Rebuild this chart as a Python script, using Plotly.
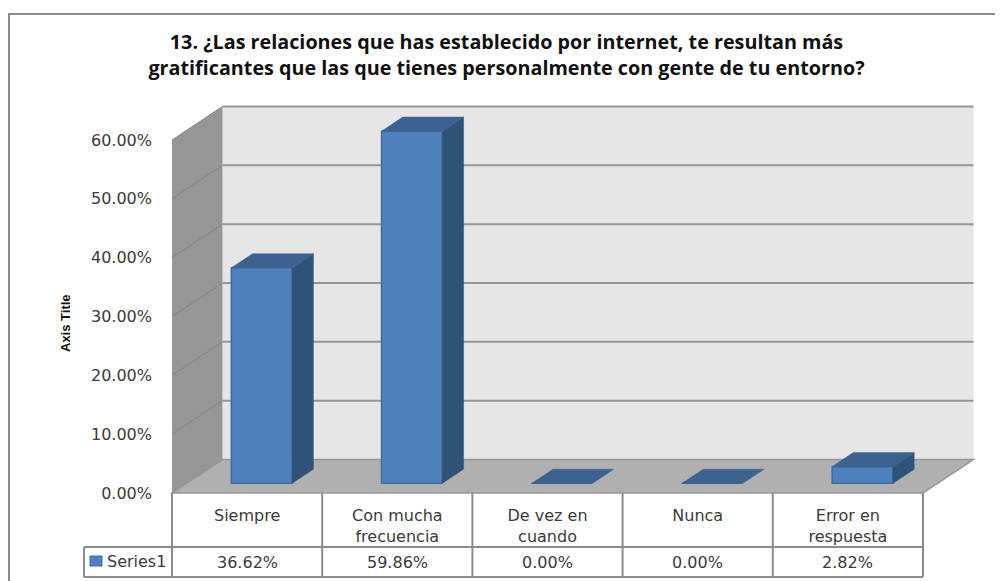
import plotly.graph_objects as go

categories = ["Siempre", "Con mucha<br>frecuencia", "De vez en<br>cuando", "Nunca", "Error en<br>respuesta"]
series_name = "Series1"
values = [36.62, 59.86, 0.00, 0.00, 2.82]
y_ticks = [0, 10, 20, 30, 40, 50, 60]
y_tick_labels = ["0.00%", "10.00%", "20.00%", "30.00%", "40.00%", "50.00%", "60.00%"]
value_labels = ["36.62%", "59.86%", "0.00%", "0.00%", "2.82%"]
title = ("13. ¿Las relaciones que has establecido por internet, te resultan más<br>"
         "gratificantes que las que tienes personalmente con gente de tu entorno?")

PAGE_W, PAGE_H = 1003, 581
OFF = 8                       # page margin around the figure
W, H = PAGE_W - OFF, PAGE_H - OFF
X0, CAT_W = 172, 150.2        # pixel of first category edge, pixels per category
Y0, UNIT = 493, 5.883         # pixel of value 0, pixels per value unit
DX, DY = 50.5 / CAT_W, 33.5 / UNIT   # oblique offset of full floor depth, in axis units
BAR_W = 0.405
D1, D2 = 0.29, 0.71           # front and rear depth of the bars

FRONT, SIDE, TOP = "#4F81BD", "#2F5277", "#3C6290"
EDGE = "#3F6C9F"
WALL, LEFT, FLOOR, GRID = "#E6E6E6", "#969696", "#B0B0B0", "#969696"
TABLE = "#8C8C8C"
TEXT = "#3A3A3A"
FONT = "DejaVu Sans"

def px(x):
    return (x - OFF) / W

def py(y):
    return 1 - (y - OFF) / H

def proj(cat, val, depth):
    return cat + depth * DX, val + depth * DY

def path(points):
    return "M" + "L".join(f"{x},{y}" for x, y in points) + "Z"

n = len(categories)
idx = list(range(n))
top = max(y_ticks)
shapes = []
# walls and floor
shapes.append(dict(type="path", layer="below", line=dict(width=0), fillcolor=WALL,
                   path=path([proj(0, 0, 1), proj(n, 0, 1), proj(n, top, 1), proj(0, top, 1)])))
shapes.append(dict(type="path", layer="below", line=dict(width=0), fillcolor=LEFT,
                   path=path([proj(0, 0, 0), proj(0, 0, 1), proj(0, top, 1), proj(0, top, 0)])))
shapes.append(dict(type="path", layer="below", line=dict(color=GRID, width=1.5), fillcolor=FLOOR,
                   path=path([proj(0, 0, 0), proj(n, 0, 0), proj(n, 0, 1), proj(0, 0, 1)])))
# gridlines
for t in y_ticks[1:]:
    a, b, c = proj(0, t, 0), proj(0, t, 1), proj(n, t, 1)
    shapes.append(dict(type="line", layer="below", x0=a[0], y0=a[1], x1=b[0], y1=b[1],
                       line=dict(color="#858585", width=1)))
    shapes.append(dict(type="line", layer="below", x0=b[0], y0=b[1], x1=c[0], y1=c[1],
                       line=dict(color=GRID, width=2)))

# outer frame (left and top edges are inside the picture)
shapes.append(dict(type="path", xref="paper", yref="paper", line=dict(color="#8C8C8C", width=2),
                   path=f"M{px(9)},{py(581)}L{px(9)},{py(14)}L{px(1003)},{py(14)}"))

# data table
def tline(x0, y0, x1, y1):
    shapes.append(dict(type="line", xref="paper", yref="paper", x0=px(x0), y0=py(y0), x1=px(x1), y1=py(y1),
                       line=dict(color=TABLE, width=2)))

tline(84, 547, 84, 577)
tline(84, 547, X0 + n * CAT_W, 547)
tline(84, 577, X0 + n * CAT_W, 577)
for i in range(n + 1):
    tline(X0 + i * CAT_W, 493, X0 + i * CAT_W, 577)
shapes.append(dict(type="rect", xref="paper", yref="paper", x0=px(90), x1=px(102), y0=py(566), y1=py(556),
                   fillcolor=FRONT, line=dict(color=EDGE, width=1)))

fig = go.Figure()
centers = [i + 0.5 for i in idx]
fig.add_trace(go.Bar(
    x=[proj(c, 0, D1)[0] for c in centers], y=values, base=proj(0, 0, D1)[1], width=BAR_W,
    name=series_name, marker=dict(color=FRONT, line=dict(color=EDGE, width=1.5)),
    showlegend=False, hoverinfo="skip"))

for c, v in zip(centers, values):
    l, r = c - BAR_W / 2, c + BAR_W / 2
    side = [proj(r, 0, D1), proj(r, 0, D2), proj(r, v, D2), proj(r, v, D1), proj(r, 0, D1)]
    lid = [proj(l, v, D1), proj(r, v, D1), proj(r, v, D2), proj(l, v, D2), proj(l, v, D1)]
    if v > 0:
        fig.add_trace(go.Scatter(x=[p[0] for p in side], y=[p[1] for p in side], mode="lines", fill="toself",
                                 fillcolor=SIDE, line=dict(color=SIDE, width=0.5), showlegend=False, hoverinfo="skip"))
    fig.add_trace(go.Scatter(x=[p[0] for p in lid], y=[p[1] for p in lid], mode="lines", fill="toself",
                             fillcolor=TOP, line=dict(color=TOP, width=0.5), showlegend=False, hoverinfo="skip"))

annotations = [
    dict(text="<b>Axis Title</b>", xref="paper", yref="paper", x=px(65), y=py(323), textangle=-90, showarrow=False,
         xanchor="center", yanchor="middle",
         font=dict(family="Liberation Sans", size=13, color="#111111")),
    dict(text=series_name, xref="paper", yref="paper", x=px(105), y=py(561), xanchor="left", yanchor="middle",
         showarrow=False, font=dict(family=FONT, size=16, color=TEXT)),
]
for c, label in zip(centers, value_labels):
    annotations.append(dict(text=label, x=c, xref="x", yref="paper", y=py(562), showarrow=False,
                            xanchor="center", yanchor="middle",
                            font=dict(family=FONT, size=16, color=TEXT)))

fig.update_layout(
    width=W, height=H, autosize=False, margin=dict(l=0, r=0, t=0, b=0),
    paper_bgcolor="white", plot_bgcolor="rgba(0,0,0,0)", showlegend=False, barmode="overlay",
    font=dict(family=FONT, color=TEXT),
    title=dict(text=title, x=px(506.5), xanchor="center", xref="paper", y=py(54), yanchor="middle", yref="paper",
               font=dict(family="Open Sans", size=19.75, weight="bold", color="#111111")),
    xaxis=dict(range=[(OFF - X0) / CAT_W, (PAGE_W - X0) / CAT_W], domain=[0, 1], showgrid=False, zeroline=False,
               tickmode="array", tickvals=centers, ticktext=categories, ticks="",
               anchor="free", position=py(Y0), side="bottom", ticklabelstandoff=11,
               tickfont=dict(family=FONT, size=16, color=TEXT), showline=False, fixedrange=True),
    yaxis=dict(range=[-(PAGE_H - Y0) / UNIT, (Y0 - OFF) / UNIT], domain=[0, 1], showgrid=False, zeroline=False,
               tickmode="array", tickvals=y_ticks, ticktext=y_tick_labels, ticks="",
               anchor="free", position=px(X0), side="left", ticklabelstandoff=20,
               tickfont=dict(family=FONT, size=16, color=TEXT), showline=False, fixedrange=True),
    shapes=shapes, annotations=annotations,
)

# move the two-line title so its lines sit where the reference has them
fig.update_layout(title_y=py(49))

fig.write_html("out.html")
